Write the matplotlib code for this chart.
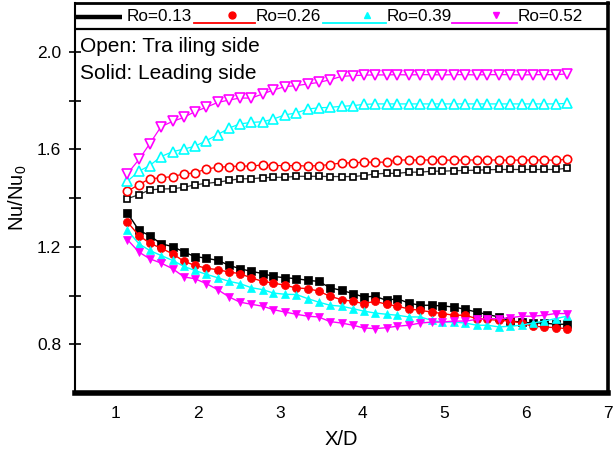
import matplotlib
matplotlib.use("Agg")
import matplotlib.pyplot as plt
from matplotlib.ticker import FixedLocator

plt.rcParams['font.family'] = ['Liberation Sans', 'DejaVu Sans']
plt.rcParams['mathtext.fontset'] = 'custom'
plt.rcParams['mathtext.rm'] = 'Liberation Sans'
plt.rcParams['mathtext.it'] = 'Liberation Sans:italic'

# streamwise positions X/D
x_d = [1.14, 1.28, 1.41, 1.55, 1.69, 1.83, 1.96, 2.10, 2.24, 2.38,
       2.51, 2.65, 2.79, 2.92, 3.06, 3.20, 3.34, 3.47, 3.61, 3.75,
       3.89, 4.02, 4.16, 4.30, 4.43, 4.57, 4.71, 4.85, 4.98, 5.12,
       5.26, 5.40, 5.53, 5.67, 5.81, 5.95, 6.08, 6.22, 6.36, 6.50]

rotation_numbers = ["Ro=0.13", "Ro=0.26", "Ro=0.39", "Ro=0.52"]

# trailing side (open symbols)
trail_013 = [1.397, 1.414, 1.433, 1.437, 1.438, 1.444, 1.454, 1.460, 1.465, 1.472,
             1.479, 1.479, 1.483, 1.485, 1.485, 1.489, 1.489, 1.489, 1.488, 1.488,
             1.488, 1.492, 1.499, 1.501, 1.501, 1.506, 1.506, 1.510, 1.510, 1.512,
             1.513, 1.514, 1.516, 1.517, 1.517, 1.517, 1.517, 1.517, 1.517, 1.522]
trail_026 = [1.428, 1.455, 1.479, 1.483, 1.488, 1.499, 1.503, 1.519, 1.526, 1.529,
             1.531, 1.531, 1.536, 1.533, 1.533, 1.533, 1.531, 1.533, 1.537, 1.544,
             1.544, 1.547, 1.547, 1.547, 1.556, 1.556, 1.556, 1.556, 1.556, 1.555,
             1.556, 1.556, 1.556, 1.556, 1.555, 1.556, 1.556, 1.556, 1.555, 1.559]
trail_039 = [1.469, 1.510, 1.533, 1.570, 1.590, 1.601, 1.612, 1.635, 1.660, 1.687,
             1.704, 1.710, 1.713, 1.724, 1.741, 1.749, 1.765, 1.770, 1.772, 1.776,
             1.779, 1.784, 1.786, 1.786, 1.786, 1.786, 1.786, 1.786, 1.786, 1.786,
             1.786, 1.786, 1.786, 1.786, 1.786, 1.786, 1.786, 1.786, 1.786, 1.788]
trail_052 = [1.500, 1.558, 1.622, 1.693, 1.714, 1.731, 1.754, 1.772, 1.792, 1.802,
             1.810, 1.810, 1.827, 1.843, 1.857, 1.861, 1.868, 1.874, 1.885, 1.899,
             1.902, 1.904, 1.905, 1.905, 1.906, 1.905, 1.906, 1.906, 1.905, 1.906,
             1.906, 1.905, 1.906, 1.906, 1.906, 1.905, 1.906, 1.906, 1.906, 1.909]

# leading side (solid symbols)
lead_013 = [1.338, 1.267, 1.246, 1.212, 1.201, 1.178, 1.160, 1.153, 1.144, 1.124,
            1.110, 1.099, 1.090, 1.078, 1.073, 1.069, 1.062, 1.058, 1.032, 1.021,
            1.008, 0.994, 0.997, 0.980, 0.987, 0.969, 0.960, 0.960, 0.957, 0.953,
            0.943, 0.932, 0.922, 0.912, 0.895, 0.891, 0.887, 0.887, 0.882, 0.882]
lead_026 = [1.301, 1.246, 1.215, 1.194, 1.171, 1.140, 1.124, 1.112, 1.106, 1.096,
            1.090, 1.072, 1.058, 1.051, 1.042, 1.031, 1.028, 1.018, 0.997, 0.983,
            0.976, 0.967, 0.976, 0.964, 0.956, 0.945, 0.939, 0.932, 0.926, 0.919,
            0.919, 0.905, 0.902, 0.898, 0.895, 0.887, 0.874, 0.871, 0.868, 0.864]
lead_039 = [1.267, 1.212, 1.185, 1.164, 1.144, 1.119, 1.103, 1.087, 1.073, 1.058,
            1.049, 1.032, 1.024, 1.010, 1.005, 1.004, 0.987, 0.973, 0.960, 0.956,
            0.946, 0.936, 0.928, 0.923, 0.919, 0.912, 0.912, 0.898, 0.891, 0.891,
            0.887, 0.878, 0.878, 0.871, 0.874, 0.878, 0.887, 0.895, 0.905, 0.915]
lead_052 = [1.229, 1.178, 1.151, 1.133, 1.110, 1.076, 1.069, 1.049, 1.024, 0.994,
            0.973, 0.964, 0.956, 0.942, 0.932, 0.923, 0.915, 0.912, 0.893, 0.887,
            0.878, 0.867, 0.864, 0.868, 0.874, 0.878, 0.887, 0.891, 0.891, 0.895,
            0.895, 0.902, 0.905, 0.905, 0.909, 0.915, 0.915, 0.919, 0.926, 0.926]

x_ticks = [1, 2, 3, 4, 5, 6, 7]
y_ticks = [0.8, 1.2, 1.6, 2.0]
y_minor = [1.0, 1.4, 1.8]

colors = ["#000000", "#ff0000", "#00ffff", "#ff00ff"]
markers = ["s", "o", "^", "v"]
trail_sizes = [4.8, 6.0, 7.0, 7.0]
lead_sizes = [6.0, 5.8, 6.3, 6.3]

fig = plt.figure(figsize=(6.13, 4.59), dpi=100)
ax = fig.add_axes([75 / 613, 66 / 459, 533 / 613, 390 / 459])

trailing = [trail_013, trail_026, trail_039, trail_052]
leading = [lead_013, lead_026, lead_039, lead_052]

for i in range(4):
    c = colors[i]
    line_c = "#333333" if i == 0 else c
    ax.plot(x_d, trailing[i], color=line_c, lw=0.9, marker=markers[i],
            ms=trail_sizes[i], mfc="white", mec=c, mew=1.2, zorder=3)
for i in range(4):
    c = colors[i]
    ax.plot(x_d, leading[i], color=c, lw=1.0, marker=markers[i],
            ms=lead_sizes[i], mfc=c, mec=c, mew=0.5, zorder=4)

ax.set_xlim(0.5, 7)
ax.set_ylim(0.6, 2.2)
ax.set_xticks(x_ticks)
ax.set_yticks(y_ticks)
ax.set_yticklabels([f"{v:.1f}" for v in y_ticks])
ax.yaxis.set_minor_locator(FixedLocator(y_minor))

ax.tick_params(axis="x", length=0, pad=9, labelsize=12.5)
ax.tick_params(axis="y", which="both", direction="inout", length=8,
               width=1.2, labelsize=12.5, pad=6)

for side, lw in (("left", 1.5), ("right", 2.6), ("bottom", 4.0), ("top", 2.0)):
    ax.spines[side].set_linewidth(lw)

ax.set_xlabel("X/D", fontsize=14.5, labelpad=7)
ax.set_ylabel(r"Nu/Nu$_0$", fontsize=14.5, labelpad=6)

# legend strip along the top of the frame
ax.axhline(2.093, color="black", lw=1.6, zorder=5)
legend_y_line = 2.119
legend_y_text = 2.126
seg = [(0.494, 1.079), (1.946, 2.69), (3.52, 4.29), (5.10, 5.89)]
mk_x = [None, 2.42, 4.06, 5.64]
txt_x = [1.128, 2.70, 4.30, 5.90]
for i in range(4):
    if i == 0:
        ax.plot(seg[i], [2.143, 2.143], color="black", lw=3.2,
                solid_capstyle="butt", zorder=6, clip_on=False)
    else:
        ax.plot(seg[i], [legend_y_line, legend_y_line], color=colors[i],
                lw=1.3, zorder=6)
        ax.plot([mk_x[i]], [2.151], marker=markers[i], color=colors[i],
                ms=5, zorder=6, linestyle="none")
    ax.text(txt_x[i], legend_y_text, rotation_numbers[i], fontsize=12.3,
            va="baseline", ha="left", zorder=6)

ax.text(0.56, 2.0195, "Open: Tra iling side", fontsize=15, va="center", ha="left")
ax.text(0.56, 1.909, "Solid: Leading side", fontsize=15, va="center", ha="left")

fig.savefig("out.png", dpi=100)
